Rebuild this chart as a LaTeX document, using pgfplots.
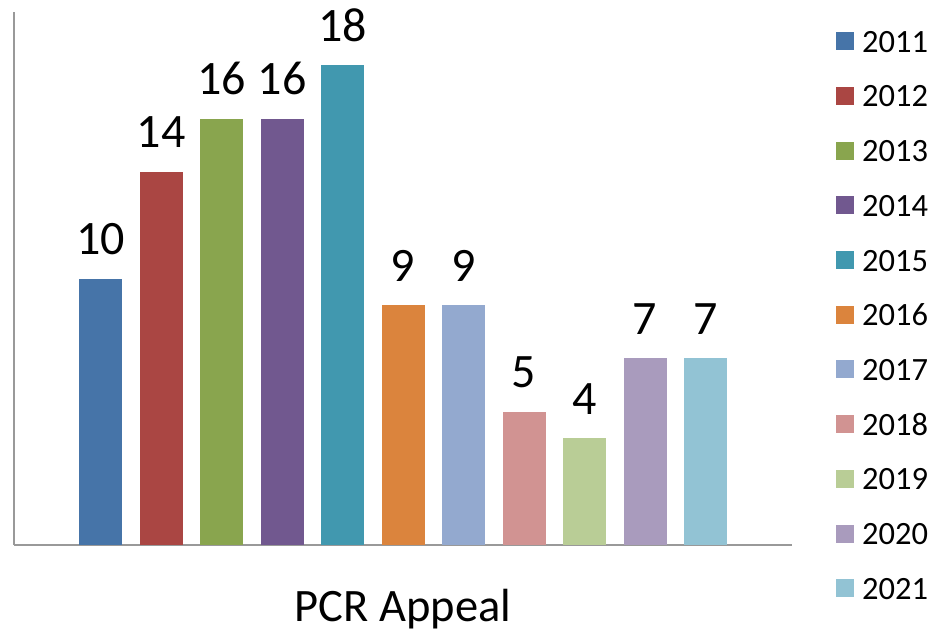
\documentclass[border=0pt]{standalone}
\usepackage{fontspec}
\setmainfont{Carlito}
\usepackage{pgfplots}
\pgfplotsset{compat=1.18}
\definecolor{c11}{HTML}{4674A8}
\definecolor{c12}{HTML}{AA4643}
\definecolor{c13}{HTML}{89A54E}
\definecolor{c14}{HTML}{71588F}
\definecolor{c15}{HTML}{4198AF}
\definecolor{c16}{HTML}{DB843D}
\definecolor{c17}{HTML}{93A9CF}
\definecolor{c18}{HTML}{D19392}
\definecolor{c19}{HTML}{B9CD96}
\definecolor{c20}{HTML}{A99BBD}
\definecolor{c21}{HTML}{92C3D4}
\definecolor{axgray}{HTML}{999999}
\begin{document}
\begin{tikzpicture}
\useasboundingbox (-14pt,-87pt) rectangle (927pt,545pt);
\begin{axis}[
  scale only axis,
  width=778pt, height=533pt,
  xmin=-0.43, xmax=12.43,
  ymin=0, ymax=20,
  axis x line=bottom, axis y line=left,
  axis line style={-, axgray, line width=1.5pt},
  xtick=\empty, ytick=\empty,
  ybar, bar width=43pt, bar shift=0pt,
  every axis plot/.append style={draw=none},
  nodes near coords={\fontsize{48}{48}\selectfont\pgfmathprintnumber[assume math mode=true]{\pgfplotspointmeta}},
  every node near coord/.append style={anchor=base, yshift=24pt, inner sep=0pt, text=black},
  xlabel={PCR Appeal},
  xlabel style={at={(axis description cs:0.5,0)}, anchor=base, yshift=-76.5pt, inner sep=0pt, font=\fontsize{46.5}{46.5}\selectfont},
  legend image code/.code={\fill[#1, draw=none] (0pt,-8pt) rectangle (18pt,10pt);},
  legend style={at={(axis description cs:1,1)}, anchor=north west, xshift=44pt, yshift=-20pt,
    draw=none, fill=none, inner sep=0pt, row sep=34.7pt, column sep=8pt,
    font=\fontsize{32.5}{32.5}\selectfont,
    nodes={inner sep=0pt, text height=20pt, text depth=0pt}},
  legend cell align=left,
]
\addplot[fill=c11] coordinates {(1,10)};
\addplot[fill=c12] coordinates {(2,14)};
\addplot[fill=c13] coordinates {(3,16)};
\addplot[fill=c14] coordinates {(4,16)};
\addplot[fill=c15] coordinates {(5,18)};
\addplot[fill=c16] coordinates {(6,9)};
\addplot[fill=c17] coordinates {(7,9)};
\addplot[fill=c18] coordinates {(8,5)};
\addplot[fill=c19] coordinates {(9,4)};
\addplot[fill=c20] coordinates {(10,7)};
\addplot[fill=c21] coordinates {(11,7)};
\legend{2011,2012,2013,2014,2015,2016,2017,2018,2019,2020,2021}
\end{axis}
\end{tikzpicture}
\end{document}
